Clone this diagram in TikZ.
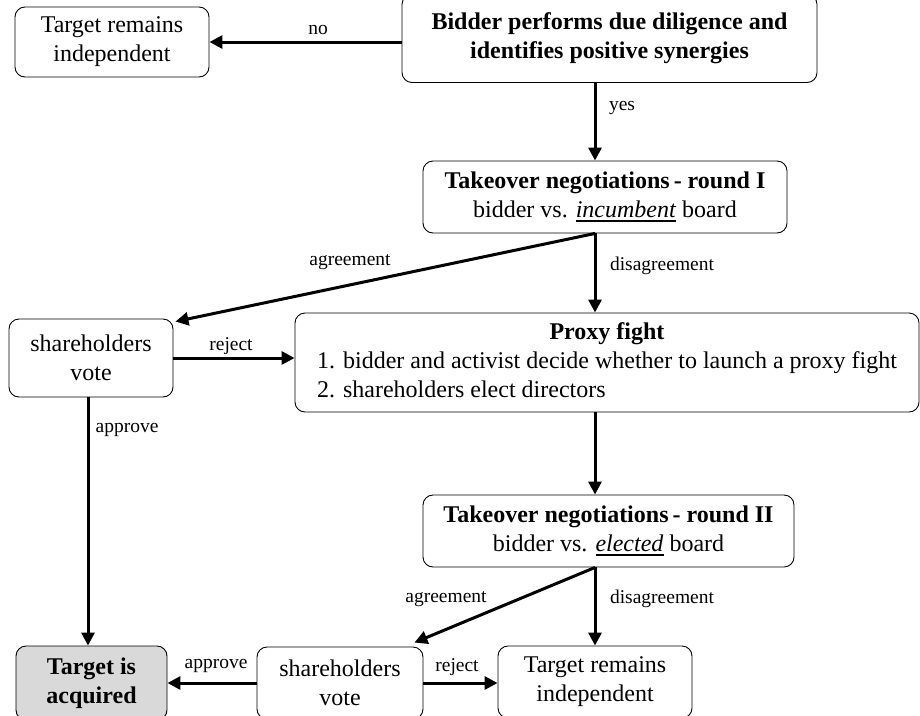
\documentclass[tikz,border=0pt]{standalone}
\usepackage{fontspec}
\setmainfont{Liberation Serif}
\usetikzlibrary{arrows.meta,calc}
\newcommand{\ulit}[1]{\begingroup\setbox0\hbox{\textit{#1}}\rlap{\rule[-4.5pt]{\wd0}{1.7pt}}\box0\endgroup}
\definecolor{accgray}{HTML}{D9D9D9}
\begin{document}
\begin{tikzpicture}[x=1pt,y=-1pt,
  box/.style={draw, rounded corners=10pt, line width=0.9pt, inner sep=0pt, align=center,
    font=\fontsize{24}{29}\selectfont},
  arr/.style={line width=3pt, -{Triangle[length=13pt,width=13pt]}},
  lab/.style={inner sep=0pt, font=\fontsize{19.5}{23}\selectfont}]
\useasboundingbox (0,0) rectangle (920,715);
\clip (0,0) rectangle (920,715);
\coordinate (ax) at (595,0);
\coordinate (lx) at (88,0);
% nodes
\node[box, minimum width=194pt, minimum height=70pt] (tri1) at (112,42) {Target remains\\independent};
\node[box, minimum width=415pt, minimum height=88pt] (bid) at (609.5,38.5) {\textbf{Bidder performs due diligence and}\\\textbf{identifies positive synergies}};
\node[box, minimum width=364pt, minimum height=72pt] (r1) at (605,197) {\textbf{Takeover negotiations\,- round I}\\bidder vs. \ulit{incumbent} board};
\node[box, minimum width=164pt, minimum height=78pt] (sv1) at (91,358) {shareholders\\vote};
\node[box, minimum width=624pt, minimum height=99pt] (proxy) at (607,362.5) {\begin{tabular}{@{}l@{}}\multicolumn{1}{@{}c@{}}{\textbf{Proxy fight}}\\1. bidder and activist decide whether to launch a proxy fight\\2. shareholders elect directors\end{tabular}};
\node[box, minimum width=371pt, minimum height=72pt] (r2) at (608.5,531) {\textbf{Takeover negotiations\,- round II}\\bidder vs. \ulit{elected} board};
\node[box, fill=accgray, minimum width=151pt, minimum height=74pt] (ta) at (91.5,683) {\textbf{Target is}\\\textbf{acquired}};
\node[box, minimum width=166pt, minimum height=72pt] (sv2) at (340,683) {shareholders\\vote};
\node[box, minimum width=194pt, minimum height=72pt] (tri2) at (595,682) {Target remains\\independent};
% connectors
\draw[arr] (bid.west |- tri1.east) -- (tri1.east);
\draw[arr] (bid.south -| ax) -- (r1.north -| ax);
\draw[arr] (r1.south -| ax) -- ($(sv1.north east)+(2,3)$);
\draw[arr] (r1.south -| ax) -- (proxy.north -| ax);
\draw[arr] (sv1.east) -- (proxy.west |- sv1.east);
\draw[arr] (sv1.south -| lx) -- (ta.north -| lx);
\draw[arr] (proxy.south -| ax) -- (r2.north -| ax);
\draw[arr] (r2.south -| ax) -- ($(sv2.north east)+(-9,-4)$);
\draw[arr] (r2.south -| ax) -- (tri2.north -| ax);
\draw[arr] (sv2.west) -- (ta.east |- sv2.west);
\draw[arr] (sv2.east) -- (tri2.west |- sv2.east);
% labels
\node[lab] (lno) at (318,30) {no};
\node[lab] (lyes) at (622,108) {yes};
\node[lab] (lagr1) at (350,262) {agreement};
\node[lab] (ldis1) at (662,266) {disagreement};
\node[lab] (lrej1) at (231,346) {reject};
\node[lab] (lapp1) at (127,430) {approve};
\node[lab] (lagr2) at (446,599) {agreement};
\node[lab] (ldis2) at (662,599) {disagreement};
\node[lab] (lapp2) at (216,666) {approve};
\node[lab] (lrej2) at (457,667) {reject};
\end{tikzpicture}
\end{document}
